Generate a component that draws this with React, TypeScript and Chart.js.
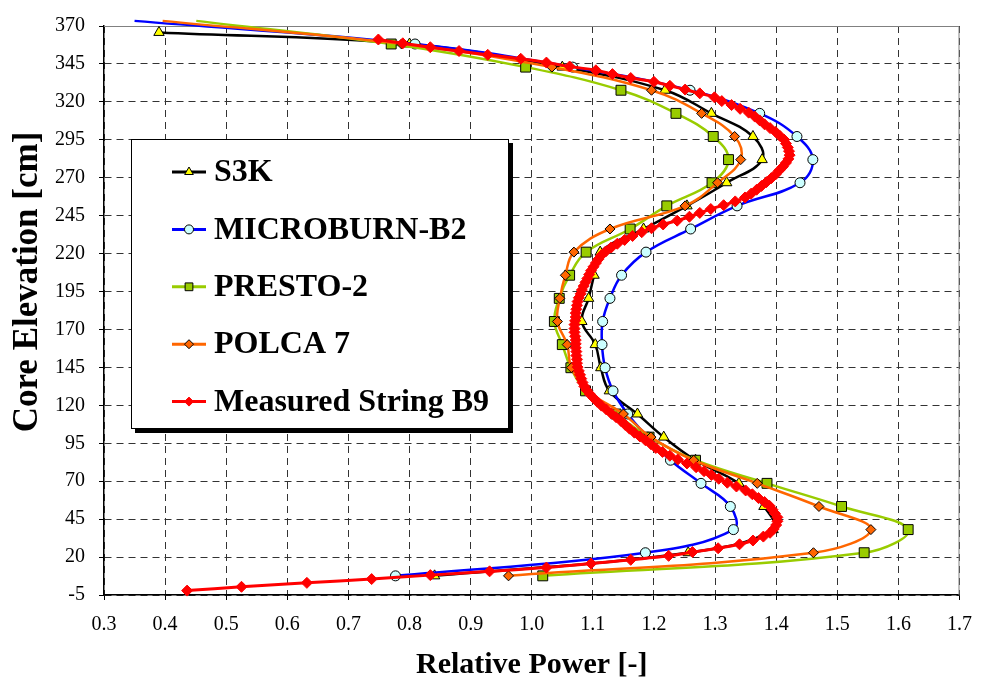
import React, { useEffect, useRef } from 'react';
import { Chart, registerables } from 'chart.js';

Chart.register(...registerables);

// ---------- data ----------
const X_TICKS = [0.3, 0.4, 0.5, 0.6, 0.7, 0.8, 0.9, 1.0, 1.1, 1.2, 1.3, 1.4, 1.5, 1.6, 1.7];
const Y_TICKS = [-5, 20, 45, 70, 95, 120, 145, 170, 195, 220, 245, 270, 295, 320, 345, 370];
const X_TITLE = 'Relative Power [-]';
const Y_TITLE = 'Core Elevation [cm]';

const SERIES_NAMES = ['S3K', 'MICROBURN-B2', 'PRESTO-2', 'POLCA 7', 'Measured String B9'];

// node centre elevations [cm] used by the core simulators
const NODE_ELEV = [7.62, 22.86, 38.1, 53.34, 68.58, 83.82, 99.06, 114.3, 129.54, 144.78, 160.02, 175.26, 190.5,
  205.74, 220.98, 236.22, 251.46, 266.7, 281.94, 297.18, 312.42, 327.66, 342.9, 358.14, 373.38];
const S3K_ELEV = [7.62, 22.86, 38.1, 53.34, 68.58, 83.82, 99.06, 114.3, 129.54, 144.78, 160.02, 175.26, 190.5,
  205.74, 220.98, 236.22, 251.46, 266.7, 281.94, 297.18, 312.42, 327.66, 342.9, 358.14, 365.76];

const S3K_POWER = [0.841, 1.256, 1.395, 1.38, 1.339, 1.268, 1.216, 1.173, 1.127, 1.113, 1.104, 1.082, 1.093,
  1.102, 1.112, 1.183, 1.254, 1.319, 1.377, 1.362, 1.294, 1.218, 1.05, 0.8, 0.39];
const MICROBURN_POWER = [0.777, 1.186, 1.33, 1.325, 1.277, 1.227, 1.19, 1.157, 1.133, 1.12, 1.115, 1.116, 1.128,
  1.147, 1.187, 1.26, 1.336, 1.439, 1.46, 1.434, 1.373, 1.259, 1.067, 0.809, 0.35];
const PRESTO_POWER = [1.018, 1.544, 1.616, 1.507, 1.385, 1.268, 1.192, 1.138, 1.088, 1.064, 1.05, 1.037, 1.045,
  1.062, 1.089, 1.161, 1.221, 1.295, 1.322, 1.297, 1.236, 1.146, 0.99, 0.77, 0.451];
const POLCA_POWER = [0.962, 1.461, 1.555, 1.47, 1.369, 1.265, 1.195, 1.15, 1.092, 1.065, 1.058, 1.042, 1.046,
  1.055, 1.069, 1.128, 1.251, 1.304, 1.342, 1.332, 1.278, 1.196, 1.033, 0.787, 0.396];

const MEAS_ELEV = [-2.1, 0.4, 3.0, 5.5, 8.1, 10.6, 13.1, 15.7, 18.2, 20.8, 23.3, 25.8, 28.4, 30.9, 33.5, 36.0,
  38.5, 41.1, 43.6, 46.2, 48.7, 51.2, 53.8, 56.3, 58.9, 61.4, 63.9, 66.5, 69.0, 71.6, 74.1, 76.6, 79.2, 81.7,
  84.3, 86.8, 89.3, 91.9, 94.4, 97.0, 99.5, 102.0, 104.6, 107.1, 109.7, 112.2, 114.7, 117.3, 119.8, 122.4,
  124.9, 127.4, 130.0, 132.5, 135.1, 137.6, 140.1, 142.7, 145.2, 147.8, 150.3, 152.8, 155.4, 157.9, 160.5,
  163.0, 165.5, 168.1, 170.6, 173.2, 175.7, 178.2, 180.8, 183.3, 185.9, 188.4, 190.9, 193.5, 196.0, 198.6,
  201.1, 203.6, 206.2, 208.7, 211.3, 213.8, 216.3, 218.9, 221.4, 224.0, 226.5, 229.0, 231.6, 234.1, 236.7,
  239.2, 241.7, 244.3, 246.8, 249.4, 251.9, 254.4, 257.0, 259.5, 262.1, 264.6, 267.1, 269.7, 272.2, 274.8,
  277.3, 279.8, 282.4, 284.9, 287.5, 290.0, 292.5, 295.1, 297.6, 300.2, 302.7, 305.2, 307.8, 310.3, 312.9,
  315.4, 317.9, 320.5, 323.0, 325.6, 328.1, 330.6, 333.2, 335.7, 338.3, 340.8, 343.3, 345.9, 348.4, 351.0,
  353.5, 356.0, 358.6, 361.1];
const MEAS_POWER = [0.436, 0.525, 0.632, 0.738, 0.834, 0.931, 1.024, 1.097, 1.162, 1.224, 1.263, 1.305, 1.34,
  1.362, 1.379, 1.39, 1.396, 1.4, 1.402, 1.402, 1.398, 1.394, 1.389, 1.381, 1.371, 1.361, 1.35, 1.335, 1.32,
  1.306, 1.294, 1.282, 1.269, 1.254, 1.239, 1.226, 1.214, 1.203, 1.195, 1.186, 1.177, 1.168, 1.16, 1.153,
  1.146, 1.138, 1.13, 1.122, 1.114, 1.107, 1.101, 1.095, 1.09, 1.086, 1.083, 1.081, 1.079, 1.077, 1.075,
  1.074, 1.074, 1.073, 1.073, 1.072, 1.072, 1.072, 1.071, 1.07, 1.07, 1.07, 1.071, 1.072, 1.072, 1.073,
  1.074, 1.075, 1.077, 1.08, 1.082, 1.085, 1.088, 1.091, 1.094, 1.097, 1.101, 1.105, 1.109, 1.114, 1.121,
  1.13, 1.14, 1.152, 1.165, 1.18, 1.196, 1.215, 1.238, 1.258, 1.275, 1.293, 1.314, 1.333, 1.349, 1.359,
  1.368, 1.376, 1.384, 1.392, 1.399, 1.405, 1.411, 1.416, 1.42, 1.422, 1.421, 1.419, 1.416, 1.413, 1.406,
  1.399, 1.39, 1.381, 1.373, 1.365, 1.355, 1.341, 1.327, 1.311, 1.299, 1.275, 1.251, 1.226, 1.2, 1.162,
  1.132, 1.105, 1.062, 1.024, 0.982, 0.928, 0.881, 0.834, 0.789, 0.749];

// ---------- styling ----------
const FONT = "'Liberation Serif', 'Times New Roman', serif";
const STYLES = [
  { line: '#000000', fill: '#FFFF00', stroke: '#000000', marker: 'triangle', r: 6, lr: 5, lw: 2.5, order: 4 },
  { line: '#0000FF', fill: '#CCFFFF', stroke: '#000000', marker: 'circle', r: 5, lr: 4.5, lw: 2.5, order: 3 },
  { line: '#99CC00', fill: '#99CC00', stroke: '#000000', marker: 'rect', r: 7, lr: 5.5, lw: 2.5, order: 2 },
  { line: '#FF6600', fill: '#FF6600', stroke: '#000000', marker: 'rectRot', r: 5, lr: 4.5, lw: 2.5, order: 1 },
  { line: '#FF0000', fill: '#FF0000', stroke: '#FF0000', marker: 'rectRot', r: 5.5, lr: 4.5, lw: 3, order: 0 },
];

const pairs = (xs: number[], ys: number[]) => xs.map((x, i) => ({ x, y: ys[i] }));

function drawMarker(ctx: CanvasRenderingContext2D, style: string, x: number, y: number, r: number,
  fill: string, stroke: string) {
  ctx.beginPath();
  if (style === 'circle') {
    ctx.arc(x, y, r, 0, Math.PI * 2);
  } else if (style === 'triangle') {
    ctx.moveTo(x, y - r);
    ctx.lineTo(x + r * 0.866, y + r * 0.5);
    ctx.lineTo(x - r * 0.866, y + r * 0.5);
    ctx.closePath();
  } else if (style === 'rect') {
    const s = r * Math.SQRT1_2;
    ctx.rect(x - s, y - s, 2 * s, 2 * s);
  } else {
    ctx.moveTo(x, y - r);
    ctx.lineTo(x + r, y);
    ctx.lineTo(x, y + r);
    ctx.lineTo(x - r, y);
    ctx.closePath();
  }
  ctx.fillStyle = fill;
  ctx.fill();
  ctx.lineWidth = 1;
  ctx.strokeStyle = stroke;
  ctx.stroke();
}

const framePlugin = {
  id: 'frameAndLegend',
  beforeDatasetsDraw(chart: any) {
    const { ctx, chartArea: a } = chart;
    ctx.save();
    ctx.strokeStyle = '#808080';
    ctx.lineWidth = 1;
    ctx.beginPath();
    ctx.moveTo(a.left, a.top + 0.5);
    ctx.lineTo(a.right - 0.5, a.top + 0.5);
    ctx.lineTo(a.right - 0.5, a.bottom);
    ctx.stroke();
    ctx.restore();
  },
  afterDatasetsDraw(chart: any) {
    const ctx: CanvasRenderingContext2D = chart.ctx;
    const bx = 131, by = 139, bw = 378, bh = 290;
    ctx.save();
    ctx.fillStyle = '#000';
    ctx.fillRect(bx + 4, by + 4, bw, bh);
    ctx.fillStyle = '#fff';
    ctx.fillRect(bx, by, bw, bh);
    ctx.strokeStyle = '#000';
    ctx.lineWidth = 1;
    ctx.strokeRect(bx + 0.5, by + 0.5, bw - 1, bh - 1);
    ctx.font = `bold 32px ${FONT}`;
    ctx.textBaseline = 'middle';
    ctx.textAlign = 'left';
    chart.data.datasets.forEach((ds: any, i: number) => {
      const st = STYLES[i];
      const cy = 172 + i * 57.4;
      ctx.strokeStyle = st.line;
      ctx.lineWidth = 3;
      ctx.beginPath();
      ctx.moveTo(172, cy);
      ctx.lineTo(206, cy);
      ctx.stroke();
      drawMarker(ctx, st.marker, 189, cy, st.lr, st.fill, st.stroke);
      ctx.fillStyle = '#000';
      ctx.fillText(ds.label, 214, cy + 1);
    });
    ctx.restore();
  },
  afterDraw(chart: any) {
    const ctx: CanvasRenderingContext2D = chart.ctx;
    ctx.save();
    ctx.translate(28, 282);
    ctx.rotate(-Math.PI / 2);
    ctx.font = `bold 35px ${FONT}`;
    ctx.fillStyle = '#000';
    ctx.textAlign = 'center';
    ctx.textBaseline = 'middle';
    ctx.fillText(Y_TITLE, 0, 0);
    ctx.restore();
  },
};

export default function App() {
  const ref = useRef<HTMLCanvasElement | null>(null);

  useEffect(() => {
    if (!ref.current) return;
    Chart.defaults.color = '#000';
    const seriesData = [
      pairs(S3K_POWER, S3K_ELEV),
      pairs(MICROBURN_POWER, NODE_ELEV),
      pairs(PRESTO_POWER, NODE_ELEV),
      pairs(POLCA_POWER, NODE_ELEV),
      pairs(MEAS_POWER, MEAS_ELEV),
    ];
    const datasets = seriesData.map((data, i) => {
      const st = STYLES[i];
      return {
        label: SERIES_NAMES[i],
        data,
        order: st.order,
        borderColor: st.line,
        borderWidth: st.lw,
        backgroundColor: st.fill,
        pointBackgroundColor: st.fill,
        pointBorderColor: st.stroke,
        pointBorderWidth: 1,
        pointStyle: st.marker,
        pointRadius: (c: any) => (c.raw && c.raw.y > 370 ? 0 : st.r),
        tension: 0.4,
        fill: false,
        clip: false as any,
      };
    });

    const chart = new Chart(ref.current, {
      type: 'line',
      data: { datasets },
      plugins: [framePlugin],
      options: {
        responsive: false,
        animation: false,
        devicePixelRatio: 1,
        layout: { padding: { top: 19, right: 19, left: 0, bottom: 0 } },
        plugins: {
          legend: { display: false },
          tooltip: { enabled: false },
        },
        scales: {
          x: {
            type: 'linear',
            min: 0.3,
            max: 1.7,
            afterBuildTicks: (s: any) => { s.ticks = X_TICKS.map((v) => ({ value: v })); },
            afterFit: (s: any) => { s.height = 86; },
            ticks: {
              callback: (v: any) => Number(v).toFixed(1),
              font: { family: FONT, size: 20 },
              color: '#000',
              padding: 13,
              maxRotation: 0,
              autoSkip: false,
            },
            grid: { color: '#333', lineWidth: 1, tickLength: 5, tickColor: '#000', drawTicks: true },
            border: { display: true, color: '#000', width: 1.5, dash: [7, 5] },
            title: {
              display: true,
              text: X_TITLE,
              font: { family: FONT, size: 30, weight: 'bold', lineHeight: 1 },
              color: '#000',
              padding: { top: 0, bottom: 1 },
            },
          },
          y: {
            type: 'linear',
            min: -5,
            max: 370,
            afterBuildTicks: (s: any) => { s.ticks = Y_TICKS.map((v) => ({ value: v })); },
            afterFit: (s: any) => { s.width = 104; },
            ticks: {
              font: { family: FONT, size: 20 },
              color: '#000',
              padding: 14,
              autoSkip: false,
            },
            grid: { color: '#333', lineWidth: 1, tickLength: 5, tickColor: '#000', drawTicks: true },
            border: { display: true, color: '#000', width: 1.5, dash: [7, 5] },
          },
        },
      },
    });
    return () => chart.destroy();
  }, []);

  return (
    <div style={{ position: 'fixed', left: 0, top: 0, width: 985, height: 681, background: '#fff' }}>
      <canvas ref={ref} width={985} height={681} style={{ display: 'block' }} />
    </div>
  );
}
